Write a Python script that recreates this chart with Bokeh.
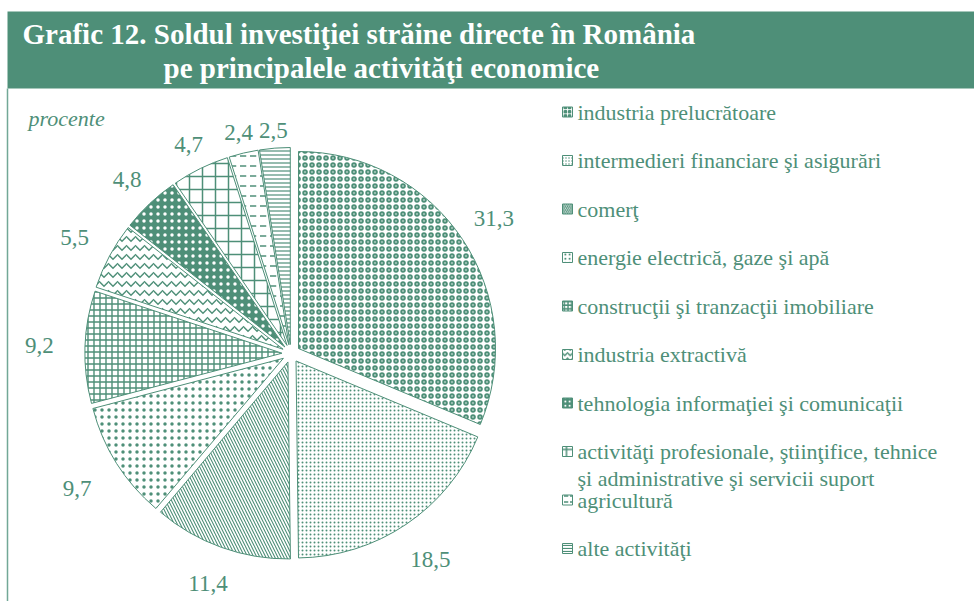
import math
from bokeh.plotting import figure
from bokeh.models import ColumnDataSource, Range1d
from bokeh.embed import file_html
from bokeh.resources import INLINE
from bokeh.core.properties import value

# ---------------- data ----------------
categories = [
    "industria prelucrătoare",
    "intermedieri financiare şi asigurări",
    "comerţ",
    "energie electrică, gaze şi apă",
    "construcţii şi tranzacţii imobiliare",
    "industria extractivă",
    "tehnologia informaţiei şi comunicaţii",
    "activităţi profesionale, ştiinţifice, tehnice\nşi administrative şi servicii suport",
    "agricultură",
    "alte activităţi",
]
shares = [31.3, 18.5, 11.4, 9.7, 9.2, 5.5, 4.8, 4.7, 2.4, 2.5]
title_lines = [
    "Grafic 12. Soldul investiţiei străine directe în România",
    "pe principalele activităţi economice",
]
unit_label = "procente"

# ---------------- styles ----------------
GREEN = "#4e8f78"
W, H = 974, 601
FONT = "Liberation Serif"

hatch_patterns = ["o", ".", "\\", ".", "+", "v", ".", "+", '"', "-"]
hatch_scales = [7, 4, 6, 7, 6, 9, 7, 13, 10, 4]
hatch_weights = [2, 1, 1.1, 1, 1.4, 1.5, 1, 1.5, 1.5, 1.2]
fill_colors = ["white"] * 10
hatch_colors = [GREEN] * 10
fill_colors[6] = GREEN
hatch_colors[6] = "white"


def fx(px):
    return px


def fy(py):
    return H - py


p = figure(width=W, height=H, x_range=Range1d(0, W), y_range=Range1d(0, H),
           output_backend="svg", toolbar_location=None, min_border=0,
           x_axis_type=None, y_axis_type=None)
p.outline_line_color = None
p.background_fill_color = "white"
p.border_fill_color = "white"

# banner
p.quad(left=[fx(7)], right=[W], top=[fy(11)], bottom=[fy(88)],
       fill_color=GREEN, line_color=None)
p.segment(x0=[fx(7)], y0=[fy(88)], x1=[fx(7)], y1=[0],
          line_color="#72a896", line_width=1.5)

p.text(x=[fx(22)], y=[fy(33)], text=[title_lines[0]], text_color="white",
       text_font=value(FONT), text_font_style="bold", text_font_size="29px",
       text_baseline="middle", text_align="left")
p.text(x=[fx(163)], y=[fy(67.5)], text=[title_lines[1]], text_color="white",
       text_font=value(FONT), text_font_style="bold", text_font_size="29px",
       text_baseline="middle", text_align="left")

p.text(x=[fx(28)], y=[fy(118)], text=[unit_label], text_color=GREEN,
       text_font=value(FONT), text_font_style="italic", text_font_size="22px",
       text_baseline="middle", text_align="left")

# pie
cx, cy = fx(290.5), fy(353)
R = 197
EXPLODE = 9
total = sum(shares)
xs, ys, starts, ends, lx, ly, ltxt = [], [], [], [], [], [], []
cum = 0.0
for s in shares:
    a0 = cum / total * 2 * math.pi
    cum += s
    a1 = cum / total * 2 * math.pi
    mid = (a0 + a1) / 2
    xs.append(cx + EXPLODE * math.sin(mid))
    ys.append(cy + EXPLODE * math.cos(mid))
    starts.append(math.pi / 2 - a0)
    ends.append(math.pi / 2 - a1)
    d = 230 + 22 * abs(math.sin(mid)) - 8 * math.cos(mid)
    lx.append(cx + d * math.sin(mid))
    ly.append(cy + d * math.cos(mid))
    ltxt.append(f"{s:.1f}".replace(".", ","))

src = ColumnDataSource(dict(x=xs, y=ys, start=starts, end=ends,
                            fill=fill_colors, hatch=hatch_patterns,
                            hs=hatch_scales, hw=hatch_weights, hc=hatch_colors))
p.wedge(x="x", y="y", radius=R, start_angle="start", end_angle="end",
        direction="clock", fill_color="fill", hatch_pattern="hatch",
        hatch_scale="hs", hatch_weight="hw", hatch_color="hc",
        line_color=GREEN, line_width=1, source=src)

p.text(x=lx, y=ly, text=ltxt, text_color=GREEN, text_font=value(FONT),
       text_font_size="23px", text_align="center", text_baseline="middle")

# legend
row0, step, line_step = 111.5, 48.5, 26.5
ix, iy, tx, ty, tt = [], [], [], [], []
for i, cat in enumerate(categories):
    yc = row0 + step * i
    ix.append(fx(567))
    iy.append(fy(yc))
    for j, line in enumerate(cat.split("\n")):
        tx.append(fx(577))
        ty.append(fy(yc + j * line_step))
        tt.append(line)

isrc = ColumnDataSource(dict(x=ix, y=iy, fill=fill_colors, hatch=hatch_patterns,
                             hs=[max(3, s * 0.6) for s in hatch_scales],
                             hw=hatch_weights, hc=hatch_colors))
p.rect(x="x", y="y", width=10, height=10, fill_color="fill",
       hatch_pattern="hatch", hatch_scale="hs", hatch_weight="hw",
       hatch_color="hc", line_color=GREEN, line_width=1, source=isrc)
p.text(x=tx, y=ty, text=tt, text_color=GREEN, text_font=value(FONT),
       text_font_size="22px", text_align="left", text_baseline="middle")

open("out.html", "w").write(file_html(p, INLINE))
